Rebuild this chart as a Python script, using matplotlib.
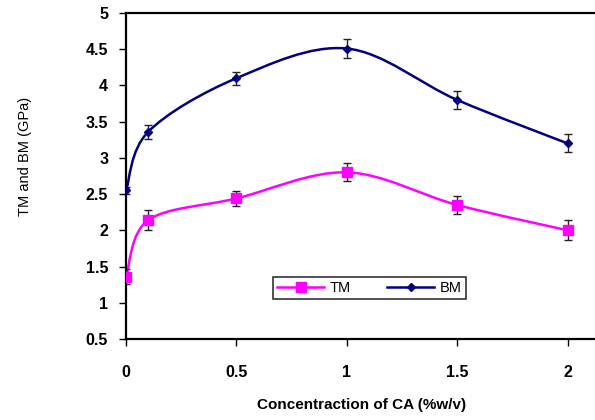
import numpy as np
import matplotlib.pyplot as plt
from matplotlib.path import Path
from matplotlib.patches import PathPatch
from matplotlib.lines import Line2D

plt.rcParams['font.family'] = ['Liberation Sans', 'DejaVu Sans']

# concentration of CA (%w/v)
conc = [0, 0.1, 0.5, 1, 1.5, 2]
tm = [1.36, 2.14, 2.44, 2.80, 2.35, 2.00]
tm_err = [0.10, 0.14, 0.10, 0.125, 0.13, 0.14]
bm = [2.55, 3.36, 4.10, 4.51, 3.80, 3.20]
bm_err = [0.05, 0.10, 0.09, 0.125, 0.13, 0.125]

xticks = [0, 0.5, 1, 1.5, 2]
yticks = [0.5, 1, 1.5, 2, 2.5, 3, 3.5, 4, 4.5, 5]


def smooth_path(xs, ys):
    # excel-style smoothed line: cubic bezier segments through every point
    pts = np.column_stack([xs, ys]).astype(float)
    n = len(pts)
    verts = [pts[0]]
    codes = [Path.MOVETO]
    for i in range(n - 1):
        p0 = pts[i - 1] if i > 0 else pts[i]
        p1 = pts[i]
        p2 = pts[i + 1]
        p3 = pts[i + 2] if i + 2 < n else pts[i + 1]
        c1 = p1 + (p2 - p0) / 6
        c2 = p2 - (p3 - p1) / 6
        verts += [c1, c2, p2]
        codes += [Path.CURVE4] * 3
    return Path(verts, codes)


fig = plt.figure(figsize=(5.95, 4.2), dpi=100)
ax = fig.add_axes([0.212, 0.193, 0.79, 0.776])

for xs, ys, err, col, mk, ms in [(conc, tm, tm_err, '#FF00FF', 's', 7),
                                 (conc, bm, bm_err, '#000080', 'D', 4.5)]:
    ax.add_patch(PathPatch(smooth_path(xs, ys), facecolor='none', edgecolor=col,
                           lw=1.8, zorder=2))
    ax.errorbar(xs, ys, yerr=err, fmt='none', ecolor='#222222', elinewidth=1,
                capsize=3, capthick=1, zorder=3)
    ax.plot(xs, ys, ls='none', marker=mk, ms=ms, color=col, zorder=4)

ax.set_xlim(0, 2.13)
ax.set_ylim(0.5, 5)
ax.set_xticks(xticks)
ax.set_xticklabels(['0', '0.5', '1', '1.5', '2'])
ax.set_yticks(yticks)
ax.set_yticklabels(['0.5', '1', '1.5', '2', '2.5', '3', '3.5', '4', '4.5', '5'])
ax.tick_params(axis='y', direction='out', length=5, width=1, labelsize=11.5,
               pad=8)
ax.tick_params(axis='x', direction='out', length=5, width=1, labelsize=11.5,
               pad=14)
for lab in ax.get_xticklabels() + ax.get_yticklabels():
    lab.set_fontweight('bold')

ax.spines['right'].set_visible(False)
for s in ['left', 'bottom', 'top']:
    ax.spines[s].set_linewidth(1.6)
    ax.spines[s].set_color('black')

ax.set_xlabel('Concentraction of CA (%w/v)', fontsize=11, fontweight='bold',
              labelpad=13)
ax.set_ylabel('TM and BM (GPa)', fontsize=10.5,
              family=['Liberation Sans Narrow', 'Liberation Sans', 'DejaVu Sans'])
ax.yaxis.set_label_coords(-0.2, 0.56)

handles = [Line2D([], [], color='#FF00FF', marker='s', ms=7, lw=1.8),
           Line2D([], [], color='#000080', marker='D', ms=4, lw=1.8)]
leg = ax.legend(handles, ['TM', 'BM'], ncol=2, loc='center',
                bbox_to_anchor=(0.518, 0.156), fontsize=10.5, frameon=True,
                fancybox=False, shadow=False, handlelength=3.2,
                columnspacing=2.5, borderpad=0.3, handletextpad=0.4)
leg.get_frame().set_edgecolor('black')
leg.get_frame().set_linewidth(1.2)

fig.savefig('out.png', dpi=100)
